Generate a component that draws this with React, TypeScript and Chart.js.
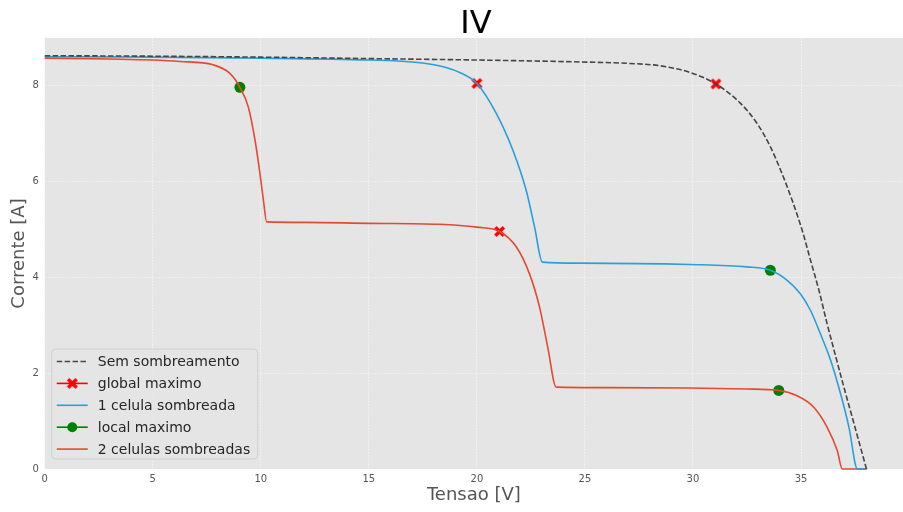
import React, { useEffect, useRef } from 'react';
import { Chart, registerables } from 'chart.js';

Chart.register(...registerables);

// Sem sombreamento (no shading)
const semV = [0, 5, 10, 15, 20, 24.76, 27, 28.47, 29.87, 31.06, 32.19, 32.96, 33.58, 34.12, 34.59, 35.05, 35.44, 35.83, 36.21, 36.6, 36.99, 37.45, 38.03];
const semI = [8.63, 8.62, 8.6, 8.57, 8.54, 8.5, 8.47, 8.42, 8.28, 8.04, 7.64, 7.22, 6.73, 6.17, 5.61, 4.99, 4.36, 3.73, 3.03, 2.36, 1.7, 0.95, 0];

// 1 celula sombreada
const cel1V = [0, 5, 10, 15, 17, 18.25, 19.2, 20.0, 20.89, 21.66, 22.28, 22.67, 23.03, 24.76, 29.87, 32.5, 33.58, 34.36, 34.97, 35.44, 35.9, 36.37, 36.83, 37.22, 37.61, 38.03];
const cel1I = [8.61, 8.6, 8.58, 8.54, 8.5, 8.42, 8.28, 8.05, 7.43, 6.66, 5.82, 5.05, 4.32, 4.3, 4.27, 4.22, 4.15, 3.94, 3.66, 3.31, 2.82, 2.27, 1.57, 0.87, 0, 0];

// 2 celulas sombreadas
const cel2V = [0, 3, 5, 6.25, 7.79, 8.57, 9.03, 9.42, 9.73, 9.96, 10.12, 10.27, 12, 15, 18.25, 20, 21.05, 21.82, 22.43, 22.9, 23.28, 23.67, 26, 29.87, 32.5, 33.97, 34.82, 35.59, 36.21, 36.68, 36.91, 38.03];
const cel2I = [8.58, 8.56, 8.54, 8.51, 8.44, 8.26, 7.97, 7.56, 6.87, 6.17, 5.61, 5.16, 5.15, 5.13, 5.11, 5.05, 4.96, 4.64, 4.08, 3.38, 2.54, 1.71, 1.7, 1.69, 1.67, 1.64, 1.53, 1.29, 0.87, 0.38, 0, 0];

// Maximum markers
const globalV = [31.06, 20.0, 21.05];
const globalI = [8.04, 8.05, 4.96];
const localV = [9.03, 33.58, 33.97];
const localI = [7.97, 4.15, 1.64];

const xTicks = [0, 5, 10, 15, 20, 25, 30, 35];
const yTicks = [0, 2, 4, 6, 8];

const titleText = 'IV';
const legendLabels = ['Sem sombreamento', 'global maximo', '1 celula sombreada', 'local maximo', '2 celulas sombreadas'];

const FONT = "'DejaVu Sans', sans-serif";
const C_SEM = '#454545';
const C_BLUE = '#2a9fd8';
const C_RED = '#e24a33';
const C_GLOBAL = '#ff0000';
const C_LOCAL = '#008000';

function pts(xs: number[], ys: number[]) {
  return xs.map((x, i) => ({ x, y: ys[i] }));
}

function makeX(): HTMLCanvasElement {
  const c = document.createElement('canvas');
  c.width = 13;
  c.height = 13;
  const g = c.getContext('2d')!;
  g.translate(6.5, 6.5);
  g.rotate(Math.PI / 4);
  g.fillStyle = C_GLOBAL;
  const L = 6.0, w = 3.4;
  g.fillRect(-w / 2, -L, w, 2 * L);
  g.fillRect(-L, -w / 2, 2 * L, w);
  return c;
}

export default function App() {
  const ref = useRef<HTMLCanvasElement>(null);

  useEffect(() => {
    const xMark = makeX();

    const bgPlugin = {
      id: 'bg',
      beforeDraw(chart: any) {
        const { ctx, chartArea } = chart;
        ctx.save();
        ctx.fillStyle = '#ffffff';
        ctx.fillRect(0, 0, chart.width, chart.height);
        ctx.fillStyle = '#e5e5e5';
        ctx.fillRect(chartArea.left, chartArea.top, chartArea.right - chartArea.left, chartArea.bottom - chartArea.top);
        ctx.restore();
      },
    };

    const titlePlugin = {
      id: 'axesTitle',
      afterDraw(chart: any) {
        const { ctx, chartArea } = chart;
        ctx.save();
        ctx.font = `32px ${FONT}`;
        ctx.fillStyle = '#000000';
        ctx.textAlign = 'center';
        ctx.textBaseline = 'alphabetic';
        ctx.fillText(titleText, (chartArea.left + chartArea.right) / 2 + 2, 33);
        ctx.restore();
      },
    };

    const legendPlugin = {
      id: 'customLegend',
      afterDraw(chart: any) {
        const { ctx, chartArea } = chart;
        const left = chartArea.left + 7;
        const w = 206;
        const h = 110;
        const top = chartArea.bottom - 10 - h;
        ctx.save();
        ctx.beginPath();
        const r = 4;
        ctx.moveTo(left + r, top);
        ctx.arcTo(left + w, top, left + w, top + h, r);
        ctx.arcTo(left + w, top + h, left, top + h, r);
        ctx.arcTo(left, top + h, left, top, r);
        ctx.arcTo(left, top, left + w, top, r);
        ctx.closePath();
        ctx.fillStyle = 'rgba(229,229,229,0.8)';
        ctx.fill();
        ctx.strokeStyle = '#d0d0d0';
        ctx.lineWidth = 1;
        ctx.stroke();

        const x0 = left + 5;
        const x1 = left + 36;
        const xm = (x0 + x1) / 2;
        const tx = left + 46;
        ctx.font = `14px ${FONT}`;
        ctx.textBaseline = 'middle';
        ctx.textAlign = 'left';
        legendLabels.forEach((label, i) => {
          const y = top + 12.5 + i * 21.9;
          ctx.setLineDash(i === 0 ? [5.5, 2.4] : []);
          ctx.lineWidth = 1.6;
          ctx.strokeStyle = [C_SEM, C_GLOBAL, C_BLUE, C_LOCAL, C_RED][i];
          ctx.beginPath();
          ctx.moveTo(x0, y);
          ctx.lineTo(x1, y);
          ctx.stroke();
          ctx.setLineDash([]);
          if (i === 1) {
            ctx.drawImage(xMark, xm - 6.5, y - 6.5);
          } else if (i === 3) {
            ctx.fillStyle = C_LOCAL;
            ctx.beginPath();
            ctx.arc(xm, y, 5, 0, Math.PI * 2);
            ctx.fill();
          }
          ctx.fillStyle = '#262626';
          ctx.fillText(label, tx, y + 1);
        });
        ctx.restore();
      },
    };

    const lineDs = (label: string, xs: number[], ys: number[], color: string, dash: number[] = []) => ({
      label,
      data: pts(xs, ys),
      showLine: true,
      borderColor: color,
      backgroundColor: color,
      borderWidth: 1.6,
      borderDash: dash,
      pointRadius: 0,
      cubicInterpolationMode: 'monotone' as const,
      clip: false as any,
    });

    const chart = new Chart(ref.current!, {
      type: 'scatter',
      data: {
        datasets: [
          lineDs('Sem sombreamento', semV, semI, C_SEM, [5.5, 2.4]),
          lineDs('1 celula sombreada', cel1V, cel1I, C_BLUE),
          lineDs('2 celulas sombreadas', cel2V, cel2I, C_RED),
          {
            label: 'global maximo',
            data: pts(globalV, globalI),
            showLine: false,
            pointStyle: xMark as any,
            pointRadius: 6,
            borderColor: C_GLOBAL,
            backgroundColor: C_GLOBAL,
            clip: false as any,
          },
          {
            label: 'local maximo',
            data: pts(localV, localI),
            showLine: false,
            pointStyle: 'circle',
            pointRadius: 5.5,
            borderWidth: 0,
            borderColor: C_LOCAL,
            backgroundColor: C_LOCAL,
            clip: false as any,
          },
        ],
      },
      options: {
        animation: false,
        responsive: true,
        maintainAspectRatio: false,
        events: [],
        layout: { autoPadding: false, padding: { left: 3, right: 0, top: 38, bottom: 0 } },
        plugins: {
          legend: { display: false },
          tooltip: { enabled: false },
          title: { display: false },
        },
        scales: {
          x: {
            type: 'linear',
            min: 0,
            max: 39.72,
            afterBuildTicks: (s: any) => {
              s.ticks = xTicks.map((v) => ({ value: v }));
            },
            ticks: {
              color: '#555555',
              font: { family: FONT, size: 10 },
              padding: 4,
              maxRotation: 0,
              callback: (v: any) => String(v),
            },
            grid: { color: 'rgba(255,255,255,0.7)', lineWidth: 0.8, drawTicks: false },
            border: { display: false, dash: [1.5, 1.5] },
            title: {
              display: true,
              text: 'Tensao [V]',
              color: '#555555',
              font: { family: FONT, size: 18 },
              padding: { top: -4, bottom: 5.4 },
            },
          },
          y: {
            type: 'linear',
            min: 0,
            max: 9,
            afterBuildTicks: (s: any) => {
              s.ticks = yTicks.map((v) => ({ value: v }));
            },
            ticks: {
              color: '#555555',
              font: { family: FONT, size: 10 },
              padding: 6,
              callback: (v: any) => String(v),
            },
            grid: { color: 'rgba(255,255,255,0.7)', lineWidth: 0.8, drawTicks: false },
            border: { display: false, dash: [1.5, 1.5] },
            title: {
              display: true,
              text: 'Corrente [A]',
              color: '#555555',
              font: { family: FONT, size: 18 },
              padding: { top: 6, bottom: -4.2 },
            },
          },
        },
      },
      plugins: [bgPlugin, legendPlugin, titlePlugin],
    } as any);

    return () => chart.destroy();
  }, []);

  return (
    <div style={{ position: 'absolute', left: 0, top: 0, width: 903, height: 512, background: '#ffffff' }}>
      <canvas ref={ref} />
    </div>
  );
}
